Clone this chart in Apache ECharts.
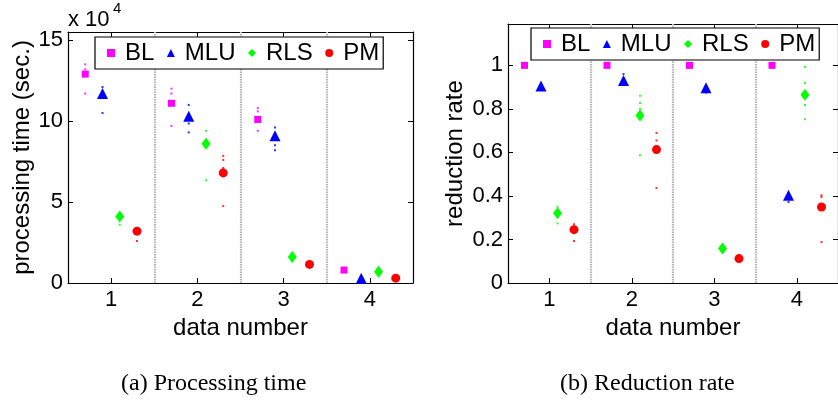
<!DOCTYPE html>
<html>
<head>
<meta charset="utf-8">
<script src="https://cdn.jsdelivr.net/npm/echarts@6/dist/echarts.min.js"></script>
<style>html,body{margin:0;padding:0;background:#fff;}#c{width:838px;height:403px;}</style>
</head>
<body>
<div id="c"></div>
<script>
// ---------- data ----------
const dataNumbers = [1, 2, 3, 4];
const seriesNames = ['BL', 'MLU', 'RLS', 'PM'];
const separators = [1.5, 2.5, 3.5];

// (a) processing time, in units of 10^4 sec
const timeBL  = [12.9, 11.1, 10.1, 0.8];
const timeMLU = [11.7, 10.3, 9.1, 0.3];
const timeRLS = [4.1, 8.6, 1.6, 0.7];
const timePM  = [3.2, 6.8, 1.15, 0.3];
// individual runs [data number, value]
const timeBLRuns  = [[1, 13.5], [1, 13.2], [1, 11.7], [2, 12.0], [2, 11.7], [2, 9.7], [3, 10.8], [3, 10.6], [3, 9.4]];
const timeMLURuns = [[1, 12.1], [1, 10.5], [2, 11.0], [2, 9.85], [2, 9.3], [3, 9.6], [3, 8.5], [3, 8.2]];
const timeRLSRuns = [[1, 3.6], [2, 9.4], [2, 6.35]];
const timePMRuns  = [[1, 3.4], [1, 2.6], [2, 7.85], [2, 7.6], [2, 7.1], [2, 4.75]];
const timeTicks = [0, 5, 10, 15];

// (b) reduction rate
const rateBL  = [1, 1, 1, 1];
const rateMLU = [0.905, 0.93, 0.897, 0.403];
const rateRLS = [0.32, 0.77, 0.158, 0.865];
const ratePM  = [0.245, 0.613, 0.112, 0.349];
const rateBLRuns  = [];
const rateMLURuns = [[2, 0.96], [2, 0.91], [3, 0.875], [4, 0.372]];
const rateRLSRuns = [[1, 0.35], [1, 0.274], [2, 0.86], [2, 0.827], [2, 0.80], [2, 0.587], [4, 0.992], [4, 0.919], [4, 0.818], [4, 0.752]];
const ratePMRuns  = [[1, 0.27], [1, 0.193], [2, 0.689], [2, 0.655], [2, 0.436], [4, 0.403], [4, 0.395], [4, 0.188]];
const rateTicks = [0, 0.2, 0.4, 0.6, 0.8, 1];

// ---------- styles ----------
const FONT = '"Liberation Sans", Arial, Helvetica, sans-serif';
const SERIF = '"Liberation Serif", "Times New Roman", serif';
const colors = ['#ff00ff', '#0000ff', '#00ff00', '#ff0000'];
const symbols = ['rect', 'triangle', 'diamond', 'circle'];
const symbolSizes = [7, 11, [9, 12], 9];
const offsets = [-0.3, -0.1, 0.1, 0.3];

const chart = echarts.init(document.getElementById('c'), null, {renderer: 'canvas'});

function xAxes(grid) {
  return [{
    gridIndex: grid, type: 'value', min: 0.5, max: 4.5,
    axisLine: {show: true, onZero: false, lineStyle: {color: '#000', width: 1.2}},
    axisTick: {show: true, inside: true, length: 5, customValues: dataNumbers, lineStyle: {color: '#000'}},
    axisLabel: {show: true, customValues: dataNumbers, fontSize: 22, color: '#000', margin: 6, fontFamily: FONT},
    splitLine: {show: false},
    name: 'data number', nameLocation: 'middle', nameGap: 27,
    nameTextStyle: {fontSize: 24, color: '#000', fontFamily: FONT}
  }, {
    gridIndex: grid, type: 'value', min: 0.5, max: 4.5, position: 'top',
    axisLine: {show: true, onZero: false, lineStyle: {color: '#000', width: 1.2}},
    axisTick: {show: true, inside: true, length: 5, customValues: dataNumbers, lineStyle: {color: '#000'}},
    axisLabel: {show: false}, splitLine: {show: false}
  }];
}
function yAxes(grid, max, ticks, name, gap) {
  return [{
    gridIndex: grid, type: 'value', min: 0, max: max,
    axisLine: {show: true, onZero: false, lineStyle: {color: '#000', width: 1.2}},
    axisTick: {show: true, inside: true, length: 5, customValues: ticks, lineStyle: {color: '#000'}},
    axisLabel: {show: true, customValues: ticks, fontSize: 22, color: '#000', margin: 5, fontFamily: FONT},
    splitLine: {show: false},
    name: name, nameLocation: 'middle', nameGap: gap,
    nameTextStyle: {fontSize: 24, color: '#000', fontFamily: FONT}
  }, {
    gridIndex: grid, type: 'value', min: 0, max: max, position: 'right',
    axisLine: {show: true, onZero: false, lineStyle: {color: '#000', width: 1.2}},
    axisTick: {show: true, inside: true, length: 5, customValues: ticks, lineStyle: {color: '#000'}},
    axisLabel: {show: false}, splitLine: {show: false}
  }];
}

function buildSeries(grid, means, runs) {
  const out = [];
  means.forEach((vals, i) => {
    const s = {
      name: seriesNames[i], type: 'scatter',
      xAxisIndex: grid * 2, yAxisIndex: grid * 2,
      symbol: symbols[i], symbolSize: symbolSizes[i],
      itemStyle: {color: colors[i], opacity: 1},
      data: dataNumbers.map((d, k) => [d + offsets[i], vals[k]]),
      z: 3
    };
    if (i === 0) {
      s.markLine = {
        silent: true, symbol: 'none', label: {show: false},
        lineStyle: {color: '#b4b4b4', type: [1.5, 1], width: 2.2},
        emphasis: {disabled: true},
        data: separators.map(v => ({xAxis: v}))
      };
    }
    out.push(s);
    out.push({
      name: seriesNames[i], type: 'scatter',
      xAxisIndex: grid * 2, yAxisIndex: grid * 2,
      symbol: 'rect', symbolSize: 2,
      itemStyle: {color: colors[i]},
      data: runs[i].map(p => [p[0] + offsets[i], p[1]]),
      z: 4
    });
  });
  return out;
}

function legend(left, top) {
  return {
    left: left, top: top, orient: 'horizontal',
    backgroundColor: '#fff', borderColor: '#000', borderWidth: 1.2,
    padding: [3, 4, 3, 12], itemGap: 12.5, itemWidth: 8, itemHeight: 8,
    textStyle: {fontSize: 24, color: '#000', fontFamily: FONT, padding: [0, 0, 0, 5], lineHeight: 26},
    selectedMode: false,
    data: seriesNames.map((n, i) => ({name: n, icon: symbols[i], itemStyle: {color: colors[i]}})),
    z: 10
  };
}

const option = {
  animation: false,
  backgroundColor: '#fff',
  grid: [
    {left: 68, top: 32, width: 345, height: 251, containLabel: false},
    {left: 508, top: 24, width: 338, height: 259, containLabel: false}
  ],
  xAxis: [...xAxes(0), ...xAxes(1)],
  yAxis: [...yAxes(0, 15.5, timeTicks, 'processing time (sec.)', 33), ...yAxes(1, 1.19, rateTicks, 'reduction rate', 41)],
  legend: [legend(95, 37), legend(531, 28)],
  series: [
    ...buildSeries(0, [timeBL, timeMLU, timeRLS, timePM], [timeBLRuns, timeMLURuns, timeRLSRuns, timePMRuns]),
    ...buildSeries(1, [rateBL, rateMLU, rateRLS, ratePM], [rateBLRuns, rateMLURuns, rateRLSRuns, ratePMRuns])
  ],
  graphic: [
    {type: 'text', left: 68, top: 9, style: {text: 'x 10', font: '22px ' + FONT, fill: '#000'}},
    {type: 'text', left: 113, top: 1, style: {text: '4', font: '15px ' + FONT, fill: '#000'}},
    {type: 'text', left: 121, top: 372, style: {text: '(a) Processing time', font: '24px ' + SERIF, fill: '#000'}},
    {type: 'text', left: 560, top: 372, style: {text: '(b) Reduction rate', font: '24px ' + SERIF, fill: '#000'}}
  ]
};
chart.setOption(option);
</script>
</body>
</html>
